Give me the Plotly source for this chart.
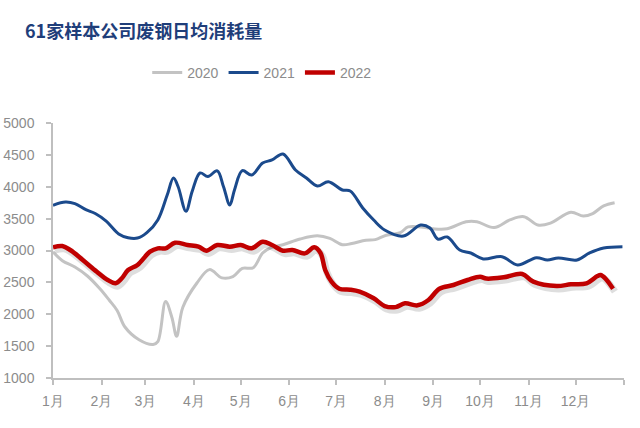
import plotly.graph_objects as go
import pandas as pd

# ---- data (day-of-year offsets from Jan 1) ----
days_2020 = [0, 6, 14, 22, 30, 36, 41, 46, 55, 64, 67, 72, 76, 79, 83, 92, 100, 108, 115, 121, 128, 134, 139, 147, 158, 169, 177, 185, 191, 200, 206, 213, 222, 227, 235, 243, 252, 264, 271, 282, 292, 301, 310, 318, 331, 339, 345, 352, 359]
vals_2020 = [2980, 2840, 2740, 2600, 2400, 2220, 2060, 1800, 1600, 1525, 1570, 2200, 1950, 1655, 2110, 2490, 2700, 2570, 2590, 2720, 2730, 2960, 3040, 3090, 3180, 3230, 3190, 3090, 3110, 3160, 3170, 3240, 3280, 3370, 3370, 3340, 3340, 3450, 3450, 3360, 3480, 3530, 3400, 3430, 3600, 3540, 3580, 3700, 3750]

days_2021 = [0, 8, 14, 21, 27, 34, 42, 48, 54, 60, 67, 73, 77, 80, 85, 89, 94, 99, 105, 109, 113, 116, 121, 127, 134, 140, 147, 155, 162, 169, 176, 185, 190, 198, 205, 212, 224, 235, 241, 246, 252, 260, 267, 275, 287, 297, 309, 316, 323, 335, 343, 352, 364]
vals_2021 = [3710, 3760, 3735, 3640, 3580, 3460, 3260, 3200, 3195, 3280, 3480, 3870, 4137, 4000, 3615, 3930, 4216, 4160, 4250, 4000, 3714, 3950, 4252, 4184, 4372, 4420, 4514, 4263, 4137, 4012, 4079, 3949, 3933, 3667, 3478, 3322, 3227, 3400, 3353, 3180, 3212, 3008, 2961, 2867, 2903, 2773, 2887, 2851, 2882, 2851, 2961, 3039, 3060]

days_2022 = [0, 6, 11, 19, 28, 35, 40, 44, 48, 54, 62, 67, 72, 78, 86, 93, 98, 105, 113, 120, 127, 134, 140, 147, 153, 161, 167, 171, 174, 178, 183, 190, 196, 205, 212, 219, 225, 233, 240, 247, 256, 265, 273, 277, 288, 300, 307, 322, 331, 341, 348, 350, 353, 358]
vals_2022 = [3050, 3070, 3008, 2851, 2667, 2537, 2485, 2564, 2694, 2773, 2981, 3034, 3034, 3122, 3086, 3060, 2997, 3086, 3060, 3086, 3034, 3138, 3086, 2997, 3008, 2955, 3050, 2961, 2694, 2511, 2400, 2385, 2354, 2250, 2129, 2112, 2171, 2140, 2223, 2400, 2459, 2537, 2589, 2560, 2580, 2631, 2511, 2443, 2470, 2485, 2600, 2616, 2564, 2400]

month_labels = ["1月", "2月", "3月", "4月", "5月", "6月", "7月", "8月", "9月", "10月", "11月", "12月"]
title_text = "61家样本公司废钢日均消耗量"

base = pd.Timestamp("2022-01-01")


def to_dates(days, shift=0.0):
    return [base + pd.Timedelta(days=d + shift) for d in days]


tick_vals = [pd.Timestamp(2022, m, 1) for m in range(1, 13)] + [pd.Timestamp(2023, 1, 1)]
tick_text = month_labels + [""]

fig = go.Figure()
fig.add_trace(go.Scatter(x=to_dates(days_2020), y=vals_2020, name="2020", mode="lines",
                         line=dict(color="#c3c3c3", width=3, shape="spline", smoothing=1.0)))
fig.add_trace(go.Scatter(x=to_dates(days_2021), y=vals_2021, name="2021", mode="lines",
                         line=dict(color="#1b4a8c", width=3, shape="spline", smoothing=1.0)))
# soft shadow under the 2022 line
fig.add_trace(go.Scatter(x=to_dates(days_2022, 1.2), y=[v - 45 for v in vals_2022], mode="lines",
                         showlegend=False, hoverinfo="skip",
                         line=dict(color="rgba(0,0,0,0.13)", width=7, shape="spline", smoothing=1.0)))
fig.add_trace(go.Scatter(x=to_dates(days_2022), y=vals_2022, name="2022", mode="lines",
                         line=dict(color="#c00000", width=4.5, shape="spline", smoothing=1.0)))

axis_color = "#bfbfbf"
tick_font = dict(family="Liberation Sans, Arial, sans-serif", size=14, color="#8c8c8c")

fig.update_layout(
    width=640, height=428,
    margin=dict(l=53, r=16, t=123, b=50),
    paper_bgcolor="white", plot_bgcolor="white",
    title=dict(text=title_text, x=25 / 640, xanchor="left", xref="container",
               y=1 - 32 / 428, yanchor="middle",
               font=dict(family="Noto Sans CJK SC", size=18, color="#1f3e7a", weight="bold")),
    legend=dict(orientation="h", x=0.165, xanchor="left", y=1.196, yanchor="middle",
                font=dict(family="Liberation Sans, Arial, sans-serif", size=14, color="#8c8c8c"),
                bgcolor="rgba(0,0,0,0)"),
    showlegend=True,
)
fig.update_xaxes(type="date", range=[base, pd.Timestamp(2023, 1, 1)],
                 tickmode="array", tickvals=tick_vals, ticktext=tick_text,
                 ticks="outside", ticklen=5, tickcolor=axis_color, tickwidth=1.5,
                 showline=True, linecolor=axis_color, linewidth=1.5, automargin=False,
                 showgrid=False, zeroline=False, tickfont=tick_font, ticklabelstandoff=4)
fig.update_yaxes(range=[1000, 5000], dtick=500, tick0=1000,
                 ticks="outside", ticklen=5, tickcolor=axis_color, tickwidth=1.5,
                 showline=True, linecolor=axis_color, linewidth=1.5, automargin=False,
                 showgrid=False, zeroline=False, tickfont=tick_font, ticklabelstandoff=9)

fig.write_html("out.html", config={"displayModeBar": False},
               post_script="document.body.style.margin='0';")
